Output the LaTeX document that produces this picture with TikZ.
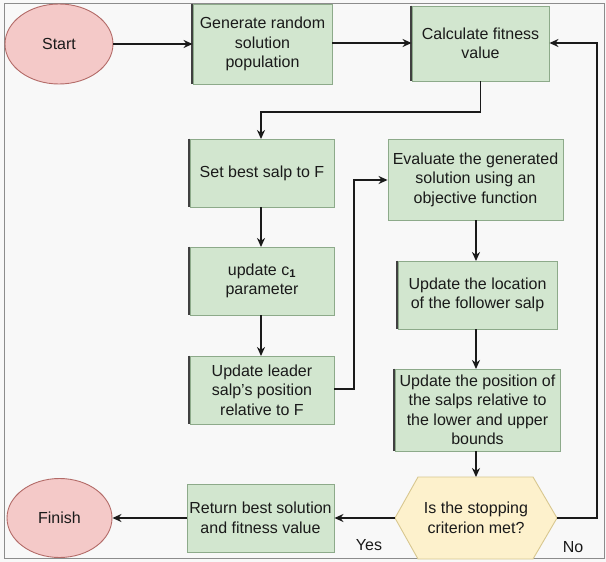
\documentclass[tikz,border=0pt]{standalone}
\usepackage{fontspec}
\setmainfont{Liberation Sans}
\usetikzlibrary{arrows.meta,shapes.geometric}
\definecolor{bgc}{HTML}{F8F8F8}
\definecolor{framec}{HTML}{8C8C8C}
\definecolor{boxfill}{HTML}{D2E6CF}
\definecolor{boxline}{HTML}{8DAA8A}
\definecolor{ellfill}{HTML}{F4C9C8}
\definecolor{ellline}{HTML}{B36B68}
\definecolor{hexfill}{HTML}{FDF1CC}
\definecolor{hexline}{HTML}{D8C78F}
\definecolor{inkc}{HTML}{1A1A1A}
\tikzset{
  procbox/.style={draw=boxline, line width=0.9pt, fill=boxfill, rectangle, inner sep=0pt, align=center, text=inkc,
    font=\fontsize{16}{19.5}\selectfont},
  termell/.style={draw=ellline, line width=0.9pt, fill=ellfill, ellipse, inner sep=0pt, text=inkc,
    font=\fontsize{16}{19.5}\selectfont},
  flow/.style={draw=inkc, line width=1.6pt, -{Stealth[length=9pt,width=8pt]}},
  plainlbl/.style={text=inkc, inner sep=0pt, font=\fontsize{16}{19.5}\selectfont},
  leftbar/.style={draw=black!75, line width=1.8pt}
}
\newcommand{\lbar}[1]{\draw[leftbar] ([xshift=-0.6pt]#1.north west) -- ([xshift=-0.6pt]#1.south west);}
\begin{document}
\begin{tikzpicture}[x=1pt,y=-1pt]
\useasboundingbox (0,0) rectangle (606,562);
\fill[bgc] (0,0) rectangle (606,562);
\draw[framec, line width=1pt] (4.5,3.5) rectangle (604,558);

% terminals
\node[termell, minimum width=108pt, minimum height=80pt] (start) at (59,44) {Start};
\node[termell, minimum width=105pt, minimum height=79pt] (finish) at (59.5,518) {Finish};

% process boxes
\node[procbox, minimum width=139pt, minimum height=80pt] (gen) at (262.5,44) {Generate random\\solution\\population};
\node[procbox, minimum width=137pt, minimum height=75pt] (calc) at (480.5,43.5) {Calculate fitness\\value};
\node[procbox, minimum width=144pt, minimum height=68pt] (setbest) at (262,173) {Set best salp to F};
\node[procbox, minimum width=144pt, minimum height=68pt] (upc) at (262,281) {update c$_{\mathbf 1}$\\parameter};
\node[procbox, minimum width=144pt, minimum height=68pt] (leader) at (262,390) {Update leader\\salp's position\\relative to F};
\node[procbox, minimum width=175pt, minimum height=81pt] (eval) at (475.5,179.5) {Evaluate the generated\\solution using an\\objective function};
\node[procbox, minimum width=159pt, minimum height=68pt] (loc) at (477.5,295) {Update the location\\of the follower salp};
\node[procbox, minimum width=165pt, minimum height=82pt] (pos) at (477.5,410) {Update the position of\\the salps relative to\\the lower and upper\\bounds};
\node[procbox, minimum width=147pt, minimum height=68pt] (ret) at (260.5,518) {Return best solution\\and fitness value};

\lbar{gen}
\lbar{calc}
\lbar{setbest}
\lbar{upc}
\lbar{leader}
\lbar{loc}
\lbar{pos}

% decision hexagon
\coordinate (hexL) at (395,518);
\coordinate (hexR) at (557,518);
\coordinate (hexT) at (476,477);
\draw[draw=hexline, line width=0.9pt, fill=hexfill]
  (hexL) -- (418,477) -- (533,477) -- (hexR) -- (533,559) -- (418,559) -- cycle;
\node[plainlbl, align=center] (dec) at (476,518) {Is the stopping\\criterion met?};

% connectors
\draw[flow] (start.east) -- (gen.west |- start.east);
\draw[flow] (gen.east |- 0,43) -- (calc.west |- 0,43);
\draw[flow] (calc.south) |- (261,112) -- (261,139);
\draw[flow] (setbest.south -| 261,0) -- (261,247);
\draw[flow] (upc.south -| 261,0) -- (261,356);
\draw[flow] (leader.east |- 0,389) -| (354,180) -- (eval.west |- 0,180);
\draw[flow] (eval.south -| 476,0) -- (476,261);
\draw[flow] (loc.south -| 476,0) -- (476,369);
\draw[flow] (pos.south -| 476,0) -- (hexT);
\draw[flow] (hexL) -- (ret.east);
\draw[flow] (ret.west) -- (finish.east);
\draw[flow] (hexR) -- (597,518) -- (597,43) -- (calc.east |- 0,43);

\node[plainlbl] (yes) at (369,545) {Yes};
\node[plainlbl] (no) at (573,547) {No};
\end{tikzpicture}
\end{document}
